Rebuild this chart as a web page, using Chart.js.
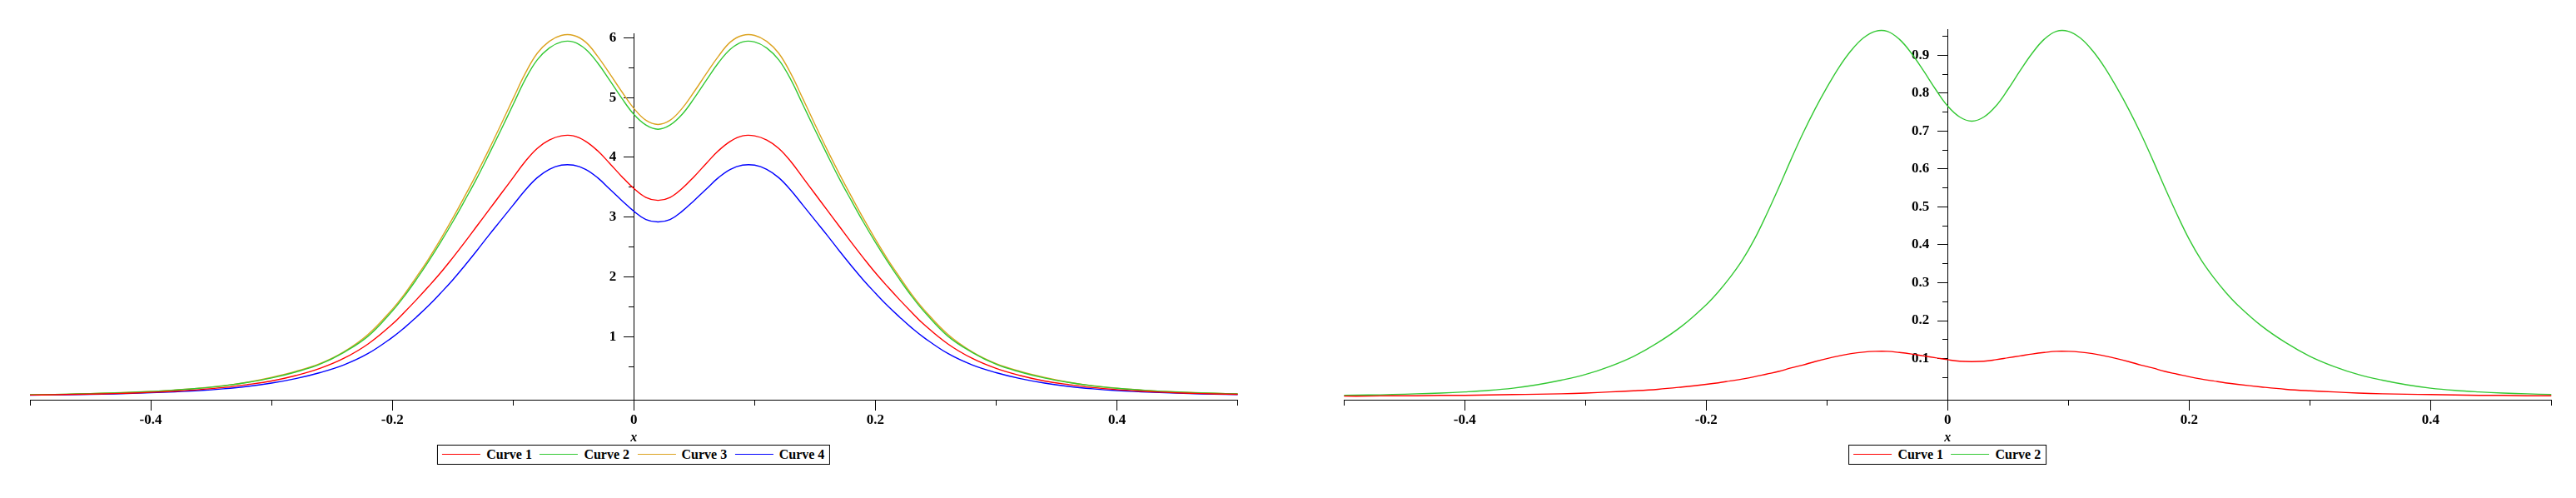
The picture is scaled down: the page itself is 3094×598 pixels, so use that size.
<!DOCTYPE html>
<html>
<head>
<meta charset="utf-8">
<script src="https://cdn.jsdelivr.net/npm/chart.js@4.4.0/dist/chart.umd.min.js"></script>
<style>
html,body{margin:0;padding:0;background:#fff;width:3094px;height:598px;overflow:hidden;position:relative;}
.panel{position:absolute;top:0;width:1547px;height:598px;}
.panel canvas{position:absolute;left:0;top:0;}
.xtitle{position:absolute;font:italic bold 16px "Liberation Serif";transform:translate(-50%,-50%);line-height:16px;}
.legend{position:absolute;top:533.5px;height:22px;border:1px solid #000;display:flex;align-items:center;padding:0 6px 0 5px;transform:translateX(-50%);font:bold 16px "Liberation Serif";white-space:nowrap;background:#fff;line-height:22px;}
.legend .item{display:flex;align-items:center;margin-right:9.5px;}
.legend .item:last-child{margin-right:0;}
.legend .swatch{width:46px;height:0;border-top:1px solid;margin-right:7px;}
</style>
</head>
<body>
<div class="panel" style="left:0"><canvas id="c1" width="1547" height="598"></canvas></div>
<div class="panel" style="left:1547px"><canvas id="c2" width="1547" height="598"></canvas></div>
<script>
// ---------- data ----------
const xValues = [-0.5,-0.48,-0.46,-0.44,-0.42,-0.4,-0.38,-0.36,-0.34,-0.32,-0.3,-0.28,-0.26,-0.24,-0.22,
  -0.2,-0.19,-0.18,-0.17,-0.16,-0.15,-0.14,-0.13,-0.12,-0.11,-0.1,-0.09,-0.08,-0.07,-0.06,-0.05,-0.04,-0.03,-0.02,-0.01,
  0,0.01,0.02,0.03,0.04,0.05,0.06,0.07,0.08,0.09,0.1,0.11,0.12,0.13,0.14,0.15,0.16,0.17,0.18,0.19,0.2,0.21,0.22,0.23,0.24,
  0.26,0.28,0.3,0.32,0.34,0.36,0.38,0.4,0.42,0.44,0.46,0.48,0.5];

// left plot
const leftCurve1 = [0.025,0.03,0.037,0.045,0.055,0.07,0.09,0.115,0.15,0.20,0.26,0.35,0.47,0.64,0.88,
  1.21,1.41,1.62,1.84,2.07,2.32,2.58,2.85,3.12,3.39,3.66,3.93,4.15,4.29,4.36,4.36,4.27,4.11,3.90,3.68,
  3.48,3.33,3.28,3.33,3.48,3.68,3.90,4.11,4.27,4.36,4.36,4.29,4.15,3.93,3.66,3.39,3.12,2.85,2.58,2.32,2.07,1.84,1.62,1.41,1.21,
  0.88,0.64,0.47,0.35,0.26,0.20,0.15,0.115,0.09,0.07,0.055,0.045,0.037];
const leftCurve2 = [0.03,0.035,0.044,0.054,0.067,0.084,0.108,0.138,0.178,0.235,0.31,0.41,0.54,0.74,1.01,
  1.43,1.68,1.96,2.26,2.58,2.92,3.28,3.65,4.05,4.46,4.88,5.30,5.63,5.83,5.93,5.93,5.81,5.58,5.29,4.99,
  4.72,4.54,4.47,4.54,4.72,4.99,5.29,5.58,5.81,5.93,5.93,5.83,5.63,5.30,4.88,4.46,4.05,3.65,3.28,2.92,2.58,2.26,1.96,1.68,1.43,
  1.01,0.74,0.54,0.41,0.31,0.235,0.178,0.138,0.108,0.084,0.067,0.054,0.044];
const leftCurve3 = [0.03,0.035,0.045,0.055,0.068,0.085,0.11,0.14,0.18,0.24,0.32,0.42,0.55,0.75,1.04,
  1.46,1.71,2.00,2.30,2.63,2.98,3.35,3.73,4.13,4.55,4.98,5.40,5.74,5.94,6.04,6.04,5.93,5.69,5.40,5.10,
  4.82,4.62,4.55,4.62,4.82,5.10,5.40,5.69,5.93,6.04,6.04,5.94,5.74,5.40,4.98,4.55,4.13,3.73,3.35,2.98,2.63,2.30,2.00,1.71,1.46,
  1.04,0.75,0.55,0.42,0.32,0.24,0.18,0.14,0.11,0.085,0.068,0.055,0.045];
const leftCurve4 = [0.022,0.027,0.033,0.04,0.05,0.063,0.08,0.10,0.13,0.17,0.225,0.30,0.40,0.53,0.72,
  0.99,1.15,1.33,1.52,1.73,1.95,2.19,2.44,2.70,2.95,3.20,3.45,3.66,3.80,3.87,3.87,3.80,3.66,3.47,3.28,
  3.10,2.96,2.92,2.96,3.10,3.28,3.47,3.66,3.80,3.87,3.87,3.80,3.66,3.45,3.20,2.95,2.70,2.44,2.19,1.95,1.73,1.52,1.33,1.15,0.99,
  0.72,0.53,0.40,0.30,0.225,0.17,0.13,0.10,0.08,0.063,0.05,0.04,0.033];

// right plot
const rightCurve1 = [0.001,0.001,0.002,0.002,0.003,0.003,0.004,0.005,0.006,0.007,0.009,0.012,0.015,0.019,0.025,
  0.032,0.036,0.041,0.046,0.052,0.059,0.066,0.075,0.083,0.092,0.100,0.107,0.113,0.117,0.119,0.119,0.116,0.112,0.107,0.102,
  0.097,0.093,0.092,0.093,0.097,0.102,0.107,0.112,0.116,0.119,0.119,0.117,0.113,0.107,0.100,0.092,0.083,0.075,0.066,0.059,0.052,0.046,0.041,0.036,0.032,
  0.025,0.019,0.015,0.012,0.009,0.007,0.006,0.005,0.004,0.003,0.003,0.002,0.002];
const rightCurve2 = [0.003,0.004,0.005,0.007,0.009,0.012,0.016,0.022,0.031,0.043,0.058,0.079,0.106,0.142,0.186,
  0.242,0.276,0.315,0.360,0.415,0.480,0.550,0.623,0.693,0.757,0.815,0.868,0.912,0.945,0.963,0.963,0.942,0.905,0.859,0.810,
  0.766,0.737,0.726,0.737,0.766,0.810,0.859,0.905,0.942,0.963,0.963,0.945,0.912,0.868,0.815,0.757,0.693,0.623,0.550,0.480,0.415,0.360,0.315,0.276,0.242,
  0.186,0.142,0.106,0.079,0.058,0.043,0.031,0.022,0.016,0.012,0.009,0.007,0.005];

const leftLabels = ['Curve 1','Curve 2','Curve 3','Curve 4'];
const rightLabels = ['Curve 1','Curve 2'];

// tick values
const xMajorTicks = [-0.4,-0.2,0,0.2,0.4];
const xMinorTicks = [-0.5,-0.3,-0.1,0.1,0.3,0.5];
const leftYMajorTicks = [1,2,3,4,5,6];
const leftYMinorTicks = [0.5,1.5,2.5,3.5,4.5,5.5];
const rightYMajorTicks = [0.1,0.2,0.3,0.4,0.5,0.6,0.7,0.8,0.9];
const rightYMinorTicks = [0.05,0.15,0.25,0.35,0.45,0.55,0.65,0.75,0.85,0.95];

// ---------- styling ----------
const COLORS = {red:'#ff0000', green:'#33c833', gold:'#dca320', blue:'#0000ff'};
const FONT = {family:'"Liberation Serif", "Times New Roman", serif', size:17, weight:'bold'};

function pts(ys){ return xValues.map((x,i)=>({x:x, y:ys[i]})); }

function ds(label, ys, color){
  return {label, data: pts(ys), borderColor: color, backgroundColor: color,
    borderWidth: 1.4, pointRadius: 0, fill: false, tension: 0.4,
    xAxisID: 'x', yAxisID: 'y', clip: 3};
}

function axis(kind, ticksArr, min, max, pos, len, opts){
  const o = Object.assign({labels:false, pad:0, border:true, marks:true}, opts||{});
  return {
    type: 'linear', axis: kind, min, max, position: pos,
    afterBuildTicks: s => { s.ticks = ticksArr.map(v => ({value: v})); },
    grid: {display: o.marks, drawOnChartArea: false, drawTicks: o.marks, tickLength: len, color: '#000', tickColor:'#000', tickWidth: 1},
    border: {display: o.border, color: '#000', width: 1},
    ticks: {display: o.labels, autoSkip: false, maxRotation: 0, color: '#000', font: FONT, padding: o.pad,
      callback: v => String(v)}
  };
}

function makeChart(id, datasets, pad, yMin, yMax, yMaj, yMinr, labelX){
  const ctx = document.getElementById(id);
  return new Chart(ctx, {
    type: 'line',
    data: {datasets},
    options: {
      responsive: false, animation: false, devicePixelRatio: 1,
      layout: {padding: pad},
      plugins: {legend: {display: false}, tooltip: {enabled: false}, title:{display:false}},
      scales: {
        x: axis('x', xMajorTicks, -0.5, 0.5, {y: yMin}, 12, {labels:true, pad:2}),
        x2: axis('x', xMinorTicks, -0.5, 0.5, {y: yMin}, 6),
        y: axis('y', yMaj, yMin, yMax, {x: 0}, 12),
        y2: axis('y', yMinr, yMin, yMax, {x: 0}, 6),
        // label-only axis, placed just left of the tick marks of the y axis
        ylab: axis('y', yMaj, yMin, yMax, {x: labelX}, 0, {labels:true, border:false, marks:false})
      }
    }
  });
}

const chartL = makeChart('c1', [
  ds(leftLabels[0], leftCurve1, COLORS.red),
  ds(leftLabels[1], leftCurve2, COLORS.green),
  ds(leftLabels[2], leftCurve3, COLORS.gold),
  ds(leftLabels[3], leftCurve4, COLORS.blue)
], {left:36, right:60.4, top:40.7, bottom:117.3}, -0.063, 6.065, leftYMajorTicks, leftYMinorTicks, -0.0145);

const chartR = makeChart('c2', [
  ds(rightLabels[0], rightCurve1, COLORS.red),
  ds(rightLabels[1], rightCurve2, COLORS.green)
], {left:67.3, right:29.7, top:35.3, bottom:117.3}, -0.0101, 0.968, rightYMajorTicks, rightYMinorTicks, -0.0152);

// ---------- axis title + legend (HTML, built from the chart's datasets) ----------
function decorate(chart, offsetX){
  const cx = offsetX + chart.scales.x.getPixelForValue(0);
  const t = document.createElement('div');
  t.className = 'xtitle'; t.textContent = 'x';
  t.style.left = cx + 'px'; t.style.top = '525px';
  document.body.appendChild(t);
  const lg = document.createElement('div');
  lg.className = 'legend'; lg.style.left = cx + 'px';
  chart.data.datasets.forEach(d => {
    const it = document.createElement('div'); it.className = 'item';
    const sw = document.createElement('span'); sw.className = 'swatch'; sw.style.borderTopColor = d.borderColor;
    const tx = document.createElement('span'); tx.textContent = d.label;
    it.appendChild(sw); it.appendChild(tx); lg.appendChild(it);
  });
  document.body.appendChild(lg);
}
decorate(chartL, 0);
decorate(chartR, 1547);
</script>
</body>
</html>
